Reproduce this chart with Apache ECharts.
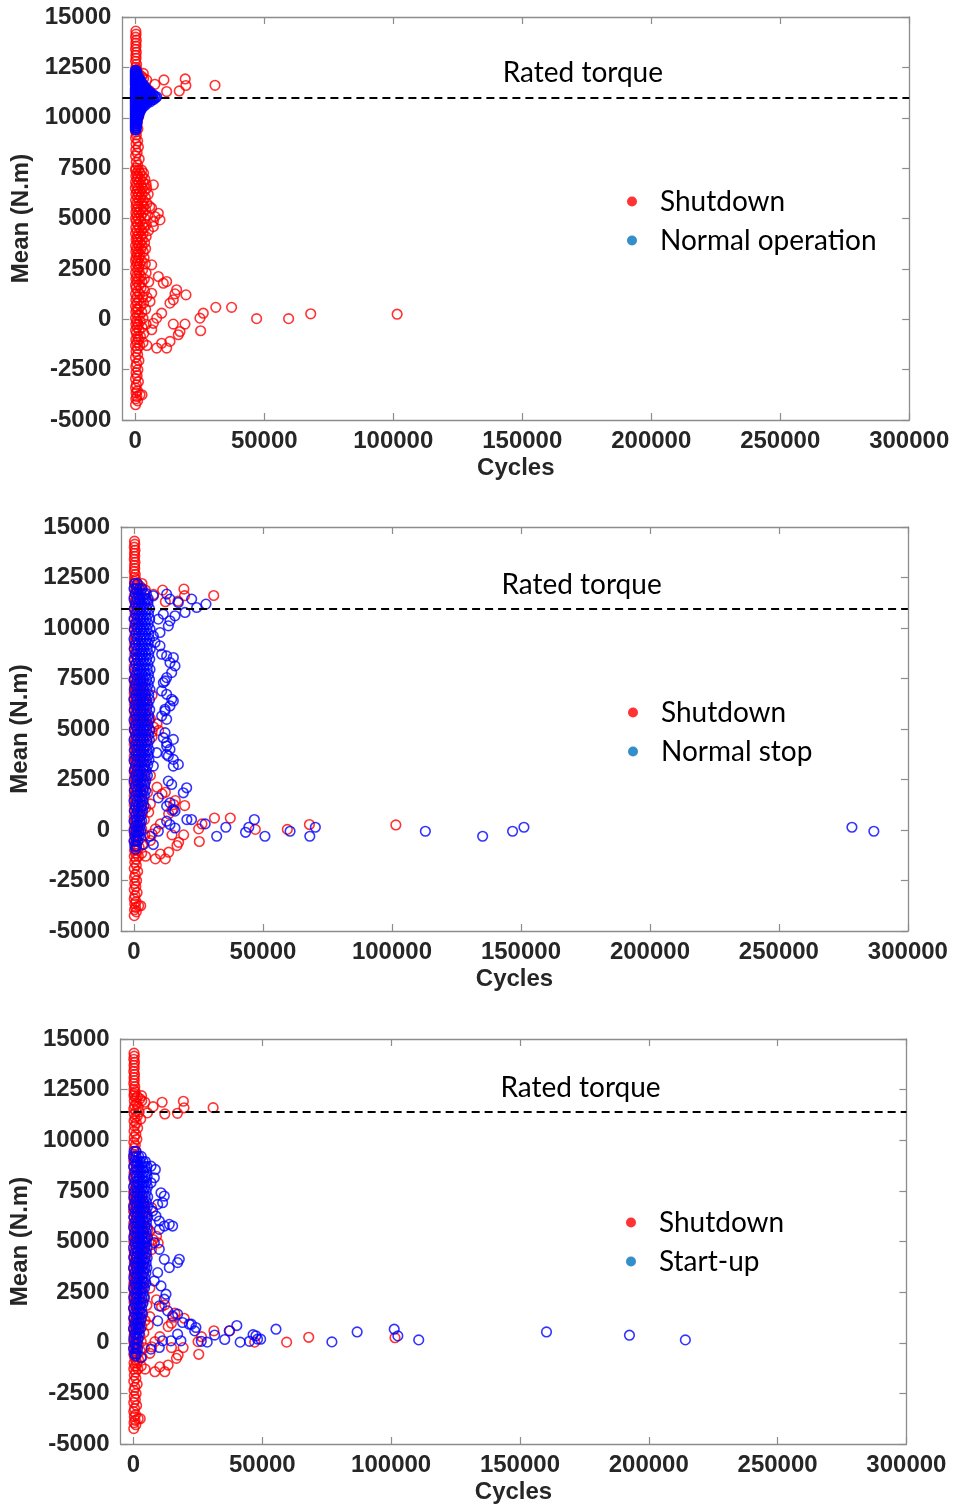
<!DOCTYPE html>
<html>
<head>
<meta charset="utf-8">
<script src="https://cdn.jsdelivr.net/npm/echarts@6/dist/echarts.min.js"></script>
<style>
  html, body { margin: 0; padding: 0; background: #ffffff; }
  #chart { width: 959px; height: 1505px; }
</style>
</head>
<body>
<div id="chart"></div>
<script>
// Tick values shared by the three panels
const cycleTicks = [0, 50000, 100000, 150000, 200000, 250000, 300000];
const meanTicks = [-5000, -2500, 0, 2500, 5000, 7500, 10000, 12500, 15000];

// Rated torque level drawn in each panel (N.m)
const ratedTorque = [11000, 10950, 11400];

// Second event type of each panel
const eventNames = ['Normal operation', 'Normal stop', 'Start-up'];

// Shutdown events: [cycles, mean torque]
const shutdown = [
  // upper column
  [200,14300],[300,14150],[100,14000],[400,13850],[200,13700],[300,13550],[100,13400],[400,13250],
  [200,13100],[300,12950],[100,12800],[500,12650],[200,12500],[600,12400],[300,12300],
  [200,12200],[800,12100],[3100,12200],[1500,12150],[2500,12050],[300,11950],[3200,11950],[4400,11880],
  [1200,11800],[400,11700],[1800,11650],[100,11550],[5400,11350],[1000,11450],[2200,11400],[300,11300],
  [1500,11200],[600,11100],[2800,11050],[200,10950],[1100,10850],[400,10700],[1600,10600],[200,10450],
  [900,10300],[300,10150],[1300,10050],[100,9900],[700,9750],[300,9600],[1000,9450],[200,9300],
  [7600,11660],[11100,11876],[12150,11300],[17050,11330],[19350,11925],[19600,11600],[30900,11610],
  // middle column
  [400,9150],[100,9000],[900,8850],[300,8700],[1200,8550],[200,8400],[700,8250],[100,8100],
  [1500,7950],[400,7800],[900,7650],[200,7500],
  [100,7400],[1300,7400],[2500,7400],[500,7250],[1800,7250],[3200,7250],[200,7100],[1000,7100],[2700,7100],
  [700,6950],[2000,6950],[3700,6950],[100,6800],[1400,6800],[3000,6800],[7000,6670],[4200,6700],
  [400,6650],[2300,6650],[0,6500],[1100,6500],[2800,6500],[4400,6500],[600,6350],[1900,6350],[3500,6350],
  [200,6200],[1200,6200],[2600,6200],[5000,6200],[800,6050],[2200,6050],[3900,6050],
  [100,5900],[1500,5900],[3100,5900],[500,5750],[2600,5750],[4500,5750],
  [300,5600],[1200,5600],[3300,5600],[5600,5600],[6350,5510],[700,5450],[2000,5450],[4000,5450],
  [200,5300],[1500,5300],[2900,5300],[8930,5260],[600,5150],[2300,5150],[4800,5150],[7600,5100],
  [100,5000],[1200,5000],[3600,5000],[9570,4930],[400,4850],[2000,4850],[6990,4850],
  [900,4700],[2800,4700],[4300,4700],[6990,4600],[200,4550],[1600,4550],[3400,4550],
  [600,4400],[2400,4400],[5100,4400],[100,4250],[1300,4250],[3000,4250],[700,4100],[2100,4100],[4200,4100],
  [300,3950],[1000,3950],[2700,3950],[800,3800],[1900,3800],[3600,3800],[100,3650],[1400,3650],[2600,3650],
  [500,3500],[2200,3500],[4000,3500],[200,3350],[1200,3350],[3100,3350],[700,3200],[1800,3200],
  [300,3050],[1500,3050],[3400,3050],[100,2900],[1000,2900],[2400,2900],[600,2750],[1800,2750],[3900,2750],
  [6350,2700],[200,2600],[1300,2600],
  // lower spread
  [900,2450],[2800,2450],[100,2300],[1600,2300],[4200,2300],[500,2150],[2100,2150],[8930,2120],
  [200,2000],[1200,2000],[3500,2000],[12150,1870],[10860,1790],[700,1850],[2600,1850],[5200,1850],
  [100,1700],[1500,1700],[300,1550],[2200,1550],[16020,1460],[900,1400],[3600,1400],
  [6350,1290],[15380,1260],[19650,1210],[100,1250],[1700,1250],[600,1100],[2800,1100],[4500,1100],
  [14730,965],[200,950],[1400,950],[5700,880],[13440,800],[700,800],[3200,800],[100,650],[2000,650],
  [31200,590],[37330,590],[500,500],[1200,500],[4000,500],[200,350],[2500,350],[10220,300],[26350,300],
  [68000,270],[101500,250],[800,200],[1600,200],[8290,55],[25060,55],[47030,30],[59430,30],
  [100,50],[3000,50],[500,-100],[1900,-100],[6990,-200],[14730,-240],[19250,-240],
  [200,-250],[1100,-250],[4200,-250],[700,-400],[2600,-400],[6350,-520],[25320,-570],[17310,-610],
  [100,-550],[1500,-550],[400,-700],[3300,-700],[16660,-770],[900,-850],[2000,-850],
  [200,-1000],[1200,-1000],[13440,-1100],[10220,-1190],[600,-1150],[3000,-1150],
  [100,-1300],[1700,-1300],[4500,-1300],[8290,-1430],[12150,-1430],[800,-1450],
  // bottom column
  [300,-1600],[900,-1750],[100,-1900],[1400,-2050],[500,-2200],[200,-2350],[1000,-2500],[300,-2650],
  [700,-2800],[100,-2950],[1200,-3100],[400,-3250],[100,-3400],[800,-3550],[300,-3650],[1800,-3750],
  [2600,-3750],[600,-3830],[200,-3950],[900,-4050],[100,-4240]
];

// Normal operation events: [cycles, mean torque]
const normalOperation = [
  [0,12350],[300,12350],[0,12250],[500,12250],[0,12150],[400,12150],[800,12150],
  [0,12050],[500,12050],[1000,12050],[0,11950],[600,11950],[1200,11950],[1600,11950],
  [0,11850],[700,11850],[1400,11850],[2000,11850],[0,11750],[800,11750],[1600,11750],[2400,11750],
  [0,11650],[900,11650],[1800,11650],[2600,11650],[3100,11650],
  [100,11550],[1000,11550],[1900,11550],[2800,11550],[3600,11550],
  [0,11450],[900,11450],[1800,11450],[2700,11450],[3500,11450],[4200,11450],
  [0,11350],[1000,11350],[2000,11350],[3000,11350],[3900,11350],[4800,11350],
  [0,11250],[1100,11250],[2200,11250],[3300,11250],[4300,11250],[5300,11250],[5900,11250],
  [0,11150],[1200,11150],[2400,11150],[3600,11150],[4800,11150],[6000,11150],[6900,11150],
  [0,11060],[1300,11060],[2600,11060],[3900,11060],[5200,11060],[6400,11060],[7500,11060],[8300,11040],
  [100,10970],[1500,10970],[2900,10970],[4300,10970],[5600,10970],[6900,10970],[7900,10990],
  [0,10880],[1300,10880],[2600,10880],[3900,10880],[5200,10880],[6300,10880],[7100,10900],
  [0,10790],[1200,10790],[2400,10790],[3600,10790],[4800,10790],[5800,10790],
  [0,10700],[1100,10700],[2200,10700],[3300,10700],[4400,10700],
  [0,10600],[1000,10600],[2000,10600],[3000,10600],[3700,10600],
  [0,10500],[900,10500],[1800,10500],[2700,10500],
  [0,10400],[800,10400],[1600,10400],[2200,10400],
  [0,10300],[700,10300],[1400,10300],[1800,10300],
  [0,10200],[600,10200],[1200,10200],[1500,10200],
  [0,10100],[500,10100],[1000,10100],[1300,10100],
  [0,10000],[500,10000],[900,10000],[0,9900],[400,9900],[800,9900],
  [0,9800],[400,9800],[700,9800],[0,9700],[300,9700],[600,9700],
  [0,9600],[300,9600],[500,9600],[0,9500],[200,9500],[400,9500],[0,9400],[300,9400]
];

// Normal stop events: [cycles, mean torque]
const normalStop = [
  // dense band near zero cycles
  [300,12200],[1300,12200],
  [0,11950],[1000,11950],[2100,11950],[3000,11950],
  [500,11700],[1600,11700],[2700,11700],[3900,11700],[4800,11700],
  [0,11450],[1200,11450],[2300,11450],[3500,11450],[4600,11450],[5500,11450],
  [600,11200],[1800,11200],[3000,11200],[4200,11200],[5400,11200],
  [100,10950],[1300,10950],[2500,10950],[3700,10950],[4900,10950],[6000,10950],
  [700,10700],[1900,10700],[3100,10700],[4400,10700],[5600,10700],
  [0,10450],[1200,10450],[2400,10450],[3600,10450],[4800,10450],[6100,10450],
  [600,10200],[1800,10200],[3000,10200],[4300,10200],[5500,10200],
  [100,9950],[1300,9950],[2600,9950],[3800,9950],[5000,9950],[6200,9950],
  [700,9700],[1900,9700],[3200,9700],[4400,9700],[5700,9700],
  [0,9450],[1200,9450],[2500,9450],[3700,9450],[4900,9450],[6000,9450],
  [600,9200],[1800,9200],[3100,9200],[4300,9200],[5500,9200],
  [100,8950],[1400,8950],[2600,8950],[3800,8950],[5100,8950],[6300,8950],
  [700,8700],[2000,8700],[3200,8700],[4500,8700],[5700,8700],
  [0,8450],[1300,8450],[2500,8450],[3700,8450],[4900,8450],[6100,8450],
  [600,8200],[1800,8200],[3000,8200],[4200,8200],[5400,8200],
  [100,7950],[1400,7950],[2600,7950],[3900,7950],[5100,7950],[6200,7950],
  [700,7700],[1900,7700],[3100,7700],[4400,7700],[5600,7700],
  [0,7450],[1200,7450],[2400,7450],[3700,7450],[4900,7450],[6000,7450],
  [600,7200],[1800,7200],[3000,7200],[4300,7200],[5500,7200],
  [100,6950],[1300,6950],[2500,6950],[3800,6950],[5000,6950],[6200,6950],
  [700,6700],[1900,6700],[3100,6700],[4400,6700],[5700,6700],
  [0,6450],[1200,6450],[2400,6450],[3600,6450],[4800,6450],[6000,6450],
  [600,6200],[1800,6200],[3000,6200],[4200,6200],[5400,6200],
  [100,5950],[1300,5950],[2500,5950],[3700,5950],[4900,5950],[6100,5950],
  [700,5700],[1900,5700],[3100,5700],[4300,5700],[5600,5700],
  [0,5450],[1200,5450],[2400,5450],[3600,5450],[4800,5450],[5900,5450],
  [600,5200],[1800,5200],[3000,5200],[4200,5200],[5400,5200],
  [100,4950],[1300,4950],[2500,4950],[3800,4950],[5000,4950],[6100,4950],
  [700,4700],[1900,4700],[3100,4700],[4400,4700],[5600,4700],
  [0,4450],[1200,4450],[2400,4450],[3600,4450],[4900,4450],[6000,4450],
  [600,4200],[1800,4200],[3000,4200],[4200,4200],[5300,4200],
  [100,3950],[1300,3950],[2500,3950],[3700,3950],[4900,3950],[5900,3950],
  [700,3700],[1900,3700],[3100,3700],[4300,3700],[5500,3700],
  [0,3450],[1200,3450],[2400,3450],[3600,3450],[4800,3450],[5800,3450],
  [600,3200],[1800,3200],[3000,3200],[4200,3200],[5300,3200],
  [100,2950],[1300,2950],[2500,2950],[3700,2950],[4800,2950],
  [700,2700],[1900,2700],[3100,2700],[4300,2700],[5200,2700],
  [0,2450],[1200,2450],[2400,2450],[3600,2450],[4600,2450],
  [600,2200],[1800,2200],[3000,2200],[4100,2200],
  [100,1950],[1300,1950],[2500,1950],[3600,1950],[4500,1950],
  [700,1700],[1900,1700],[3100,1700],[4000,1700],
  [0,1450],[1200,1450],[2400,1450],[3400,1450],
  [600,1200],[1800,1200],[2900,1200],[3800,1200],
  [100,950],[1300,950],[2400,950],[3300,950],
  [700,700],[1800,700],[2700,700],
  [0,450],[1100,450],[2200,450],[3000,450],
  [500,200],[1500,200],[2400,200],
  [0,-50],[900,-50],[1800,-50],[2600,-50],
  [400,-300],[1300,-300],[2000,-300],
  [0,-550],[800,-550],[1500,-550],
  [300,-800],[1000,-800],[600,-950],
  // spread to the right of the band
  [7490,11595],[12660,11678],[13950,11430],[17180,11265],[22350,11430],[24290,11016],[27900,11182],
  [19770,10769],[15890,10603],[11370,10686],[9430,10438],[13950,10355],[13310,10107],[10080,9777],
  [7490,9611],[8140,9281],[10080,9116],[10720,8702],[12660,8620],[13950,8289],[15250,8537],
  [15890,8124],[14600,7793],[12660,7545],[12020,7379],[11370,7297],[10720,6884],[12660,6719],
  [15250,6387],[14600,6471],[13950,6140],[12020,5975],[12020,5891],[10720,5644],[12660,5479],
  [12020,4818],[11370,4570],[15250,4486],[12660,4322],[12660,4155],[13950,3991],[12660,3743],
  [13310,3660],[15250,3495],[17180,3247],[8790,3826],[7490,3165],[15250,3164],
  [13310,2421],[14600,2256],[20410,2090],[19120,1842],[9430,1594],[13950,1345],[12660,1181],
  [15250,1015],[15890,933],[12660,437],[13950,272],[15890,100],[9430,-59],[7490,-720],[3620,-720],
  [6200,-310],
  // long-life events
  [20500,517],[22300,517],[27600,303],[32050,-310],[35600,135],[43250,-113],[44500,135],[46650,517],
  [50750,-310],[60500,-63],[68150,-310],[70300,135],[112950,-63],[135150,-310],[146750,-63],
  [151160,135],[278300,135],[286800,-63]
];

// Start-up events: [cycles, mean torque]
const startUp = [
  // dense band near zero cycles
  [200,9450],[900,9450],
  [0,9200],[1000,9200],[2000,9200],[3000,9200],
  [500,8950],[1500,8950],[2600,8950],[3700,8950],[4600,8950],
  [0,8700],[1100,8700],[2200,8700],[3300,8700],[4400,8700],[5200,8700],
  [600,8450],[1700,8450],[2800,8450],[3900,8450],[5000,8450],
  [100,8200],[1200,8200],[2300,8200],[3400,8200],[4500,8200],[5300,8200],
  [600,7950],[1700,7950],[2800,7950],[3900,7950],[5000,7950],
  [0,7700],[1100,7700],[2200,7700],[3300,7700],[4400,7700],[5400,7700],
  [500,7450],[1600,7450],[2700,7450],[3800,7450],[4900,7450],
  [100,7200],[1200,7200],[2300,7200],[3400,7200],[4500,7200],[5500,7200],
  [600,6950],[1700,6950],[2800,6950],[3900,6950],[5000,6950],
  [0,6700],[1100,6700],[2200,6700],[3300,6700],[4400,6700],[5400,6700],
  [500,6450],[1600,6450],[2700,6450],[3800,6450],[4900,6450],
  [100,6200],[1200,6200],[2300,6200],[3400,6200],[4500,6200],[5500,6200],
  [600,5950],[1700,5950],[2800,5950],[3900,5950],[5000,5950],
  [0,5700],[1100,5700],[2200,5700],[3300,5700],[4400,5700],[5300,5700],
  [500,5450],[1600,5450],[2700,5450],[3800,5450],[4900,5450],
  [100,5200],[1200,5200],[2300,5200],[3400,5200],[4500,5200],[5400,5200],
  [600,4950],[1700,4950],[2800,4950],[3900,4950],[5000,4950],
  [0,4700],[1100,4700],[2200,4700],[3300,4700],[4400,4700],[5300,4700],
  [500,4450],[1600,4450],[2700,4450],[3800,4450],[4800,4450],
  [100,4200],[1200,4200],[2300,4200],[3400,4200],[4500,4200],[5300,4200],
  [600,3950],[1700,3950],[2800,3950],[3900,3950],[4900,3950],
  [0,3700],[1100,3700],[2200,3700],[3300,3700],[4400,3700],[5200,3700],
  [500,3450],[1600,3450],[2700,3450],[3800,3450],[4800,3450],
  [100,3200],[1200,3200],[2300,3200],[3400,3200],[4400,3200],
  [600,2950],[1700,2950],[2800,2950],[3900,2950],[4800,2950],
  [0,2700],[1100,2700],[2200,2700],[3300,2700],[4300,2700],
  [500,2450],[1600,2450],[2700,2450],[3700,2450],
  [100,2200],[1200,2200],[2300,2200],[3300,2200],[4200,2200],
  [600,1950],[1700,1950],[2800,1950],[3700,1950],
  [0,1700],[1100,1700],[2200,1700],[3100,1700],
  [500,1450],[1600,1450],[2600,1450],[3400,1450],
  [100,1200],[1200,1200],[2200,1200],[3000,1200],
  [600,950],[1600,950],[2500,950],
  [0,700],[1000,700],[1900,700],[2700,700],
  [500,450],[1400,450],[2200,450],
  [100,200],[1000,200],[1800,200],
  [500,-50],[1400,-50],
  [0,-300],[900,-300],[1600,-300],
  [400,-550],[1100,-550],[800,-650],
  // spread to the right of the band
  [6780,8720],[8460,8557],[8070,8147],[6780,7900],[10660,7408],[11950,7243],[11300,6915],[9370,6832],
  [7430,6504],[8720,6257],[10010,6011],[11950,5764],[13880,5846],[15180,5764],[10010,5600],
  [8070,4943],[10010,4614],[11950,4121],[17120,3957],[17770,4121],[13880,3711],[9370,3464],
  [8070,3053],[10660,2806],[12600,2397],[11950,2150],[10010,1822],[13240,1575],[15180,1328],
  [17120,1410],[9370,1082],[19050,1000],[21640,917],[24220,753],[17120,425],[18400,96],[14530,96],
  [11300,96],[10010,-233],[6780,-315],[2900,-726],
  // long-life events
  [22450,915],[23760,585],[26300,70],[28600,30],[31500,380],[35400,160],[37160,587],[40100,850],
  [41400,30],[45000,70],[46400,400],[47500,342],[48140,178],[49350,176],[55300,668],
  [77000,42],[86800,535],[101200,668],[102600,338],[110700,140],[160300,535],[192500,372],[214200,140]
];

const eventData = [normalOperation, normalStop, startUp];

// Panel placement on the page
const panels = [
  { grid: { left: 122.4, top: 17, width: 786.8, height: 403 }, legendLeft: 622, legendTop: 177 },
  { grid: { left: 121.1, top: 527, width: 786.8, height: 404 }, legendLeft: 623, legendTop: 688 },
  { grid: { left: 119.6, top: 1039, width: 786.8, height: 405 }, legendLeft: 621, legendTop: 1198 }
];

const AXIS_COLOR = '#8c8c8c';
const LABEL_COLOR = '#262626';
const LABEL_FONT = "'Liberation Sans', Arial, Helvetica, sans-serif";
const TEXT_FONT = "Lato, 'Open Sans', sans-serif";
const plainNumber = (v) => String(v);

const option = {
  backgroundColor: '#ffffff',
  animation: false,
  grid: [],
  xAxis: [],
  yAxis: [],
  legend: [],
  series: []
};

panels.forEach((p, i) => {
  option.grid.push(p.grid);

  const axisLine = { show: true, onZero: false, lineStyle: { color: AXIS_COLOR, width: 1.3 } };
  const tickStyle = { color: AXIS_COLOR, width: 1.2 };
  const tickText = { fontFamily: LABEL_FONT, fontWeight: 'bold', fontSize: 24, color: LABEL_COLOR };
  const nameText = { fontFamily: LABEL_FONT, fontWeight: 'bold', fontSize: 24, color: LABEL_COLOR };

  // bottom axis with labels, top axis mirrored with ticks only
  option.xAxis.push({
    gridIndex: i, type: 'value', position: 'bottom', min: -5000, max: 300000,
    axisLine,
    axisTick: { show: true, inside: true, length: 7, customValues: cycleTicks, lineStyle: tickStyle },
    axisLabel: Object.assign({ show: true, customValues: cycleTicks, margin: 9, formatter: plainNumber }, tickText),
    splitLine: { show: false },
    name: 'Cycles', nameLocation: 'middle', nameGap: 36,
    nameTextStyle: nameText
  });
  option.xAxis.push({
    gridIndex: i, type: 'value', position: 'top', min: -5000, max: 300000,
    axisLine,
    axisTick: { show: true, inside: true, length: 7, customValues: cycleTicks, lineStyle: tickStyle },
    axisLabel: { show: false },
    splitLine: { show: false }
  });

  // left axis with labels, right axis mirrored with ticks only
  option.yAxis.push({
    gridIndex: i, type: 'value', position: 'left', min: meanTicks[0], max: meanTicks[meanTicks.length - 1], interval: 2500,
    axisLine,
    axisTick: { show: true, inside: true, length: 7, lineStyle: tickStyle },
    axisLabel: Object.assign({ show: true, margin: 11, formatter: plainNumber }, tickText),
    splitLine: { show: false },
    name: 'Mean (N.m)', nameLocation: 'middle', nameGap: 85,
    nameTextStyle: nameText
  });
  option.yAxis.push({
    gridIndex: i, type: 'value', position: 'right', min: meanTicks[0], max: meanTicks[meanTicks.length - 1], interval: 2500,
    axisLine,
    axisTick: { show: true, inside: true, length: 7, lineStyle: tickStyle },
    axisLabel: { show: false },
    splitLine: { show: false }
  });

  const ring = (color) => ({ color: 'rgba(255,255,255,0)', borderColor: color, borderWidth: 1.6 });

  option.series.push({
    type: 'scatter', name: 'Shutdown', xAxisIndex: 2 * i, yAxisIndex: 2 * i,
    data: shutdown, symbol: 'circle', symbolSize: 9.6, silent: true,
    itemStyle: ring('#ff0000')
  });
  option.series.push({
    type: 'scatter', name: eventNames[i], xAxisIndex: 2 * i, yAxisIndex: 2 * i,
    data: eventData[i], symbol: 'circle', symbolSize: 9.6, silent: true,
    itemStyle: ring('#0000ff'),
    markLine: {
      silent: true, symbol: ['none', 'none'], animation: false,
      label: { show: false },
      lineStyle: { color: '#000000', type: [8, 5], width: 2 },
      data: [{ yAxis: ratedTorque[i] }]
    },
    markPoint: {
      silent: true, symbol: 'circle', symbolSize: 0, animation: false,
      label: { show: true, position: 'inside', formatter: 'Rated torque', fontFamily: TEXT_FONT, fontSize: 28, color: '#000000' },
      data: [{ coord: [173500, ratedTorque[i] + 1200] }]
    }
  });

  option.legend.push({
    orient: 'vertical', left: p.legendLeft, top: p.legendTop,
    itemWidth: 10, itemHeight: 10, itemGap: 0, icon: 'circle', selectedMode: false,
    textStyle: { fontFamily: TEXT_FONT, fontSize: 28, color: '#000000', lineHeight: 39, padding: [0, 0, 0, 18] },
    data: [
      { name: 'Shutdown', itemStyle: { color: '#ff0000', borderWidth: 0, borderColor: 'rgba(0,0,0,0)' } },
      { name: eventNames[i], itemStyle: { color: '#0072bd', borderWidth: 0, borderColor: 'rgba(0,0,0,0)' } }
    ]
  });
});

const chart = echarts.init(document.getElementById('chart'), null, { renderer: 'canvas' });
chart.setOption(option);
</script>
</body>
</html>
